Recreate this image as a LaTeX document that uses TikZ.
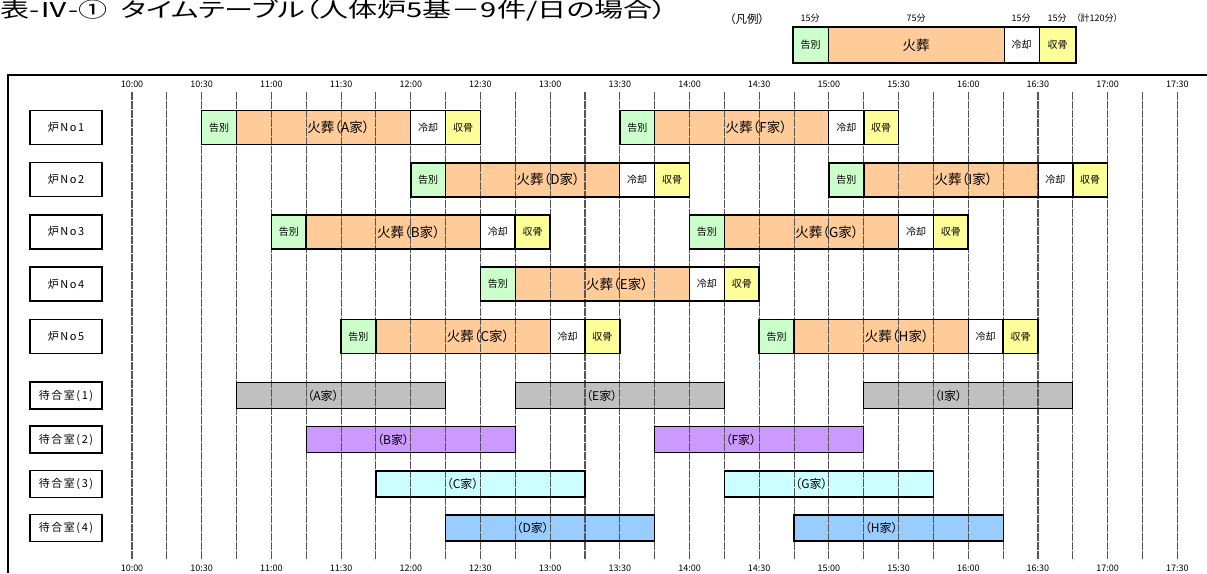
\documentclass[tikz,border=0pt]{standalone}
\usepackage{fontspec}
\setmainfont{Noto Sans CJK JP}[RawFeature={+palt}]
\newfontfamily\spacedfont{Noto Sans CJK JP}[RawFeature={+palt}, LetterSpace=14]
\pgfdeclarelayer{bg}
\pgfdeclarelayer{grid}
\pgfsetlayers{bg,grid,main}
\definecolor{cKob}{HTML}{CCFFCC}
\definecolor{cKas}{HTML}{FFCC99}
\definecolor{cShu}{HTML}{FFFF99}
\definecolor{cWa}{HTML}{C0C0C0}
\definecolor{cWb}{HTML}{CC99FF}
\definecolor{cWc}{HTML}{CCFFFF}
\definecolor{cWd}{HTML}{99CCFF}
\definecolor{cGrid}{HTML}{555555}
\tikzset{
  cell/.style={inner sep=0pt, outer sep=0pt, minimum height=34pt, minimum width=34.85pt,
    font=\fontsize{10}{11}\selectfont, anchor=west},
  kasolab/.style={inner sep=0pt, anchor=west, font=\fontsize{13.5}{14}\selectfont},
  waitbar/.style={inner sep=0pt, outer sep=0pt, minimum height=26pt, anchor=west},
  waitlab/.style={inner sep=0pt, anchor=west, font=\fontsize{12}{13}\selectfont},
  rowlab/.style={draw, line width=1.3pt, inner sep=0pt, minimum width=72pt, font=\spacedfont\fontsize{11}{12}\selectfont},
  timelab/.style={inner sep=0pt, font=\fontsize{9}{10}\selectfont},
  gridline/.style={cGrid, line width=1.1pt, dash pattern=on 8pt off 1pt},
  thickb/.style={line width=1.6pt},
  thinb/.style={line width=0.8pt},
  smalllab/.style={inner sep=0pt, font=\fontsize{9}{10}\selectfont},
}
\newcommand\crem[4]{%
  \pgfmathsetmacro\xs{132+2.323*#3}%
  \pgfmathsetmacro\xt{132+2.323*(#3+45)+1}%
  \node[cell] (#1k) at (\xs,#2) {告別};
  \node[cell, minimum width=174.2pt] (#1h) at (#1k.east) {};
  \node[cell] (#1r) at (#1h.east) {冷却};
  \node[cell] (#1s) at (#1r.east) {収骨};
  \node[kasolab] (#1t) at (\xt,#2) {火葬（#4家）};
  \begin{pgfonlayer}{bg}
    \fill[cKob] (#1k.north west) rectangle (#1k.south east);
    \fill[cKas] (#1h.north west) rectangle (#1h.south east);
    \fill[white] (#1r.north west) rectangle (#1r.south east);
    \fill[cShu] (#1s.north west) rectangle (#1s.south east);
  \end{pgfonlayer}
  \draw[thinb] (#1r.north west) rectangle (#1r.south east);
  \draw[thickb] (#1k.north west) rectangle (#1k.south east);
  \draw[thickb] (#1s.north west) rectangle (#1s.south east);
  \draw[thickb] (#1k.north west) rectangle (#1s.south east);
}
\newcommand\waitr[6]{%
  \pgfmathsetmacro\xs{132+2.323*#3}%
  \pgfmathsetmacro\ww{2.323*(#4-#3)}%
  \pgfmathsetmacro\xt{132+2.323*(#3+30)+1}%
  \node[waitbar, minimum width=\ww pt] (#1b) at (\xs,#2) {};
  \node[waitlab] (#1t) at (\xt,#2) {（#6家）};
  \begin{pgfonlayer}{bg}
    \fill[#5] (#1b.north west) rectangle (#1b.south east);
  \end{pgfonlayer}
  \draw[line width=1.2pt] (#1b.north west) rectangle (#1b.south east);
}
\begin{document}
\begin{tikzpicture}[x=1pt,y=-1pt]
\useasboundingbox (0,0) rectangle (1207,573);
% title
\node[anchor=base west, inner sep=0pt, font=\fontsize{20.5}{21}\selectfont] (title) at (0,17)
  {\scalebox{1.42}[1]{表-Ⅳ-①\ \ タイムテーブル（人体炉5基－9件/日の場合）}};
% legend
\node[anchor=center, inner sep=0pt, font=\fontsize{11.5}{12}\selectfont] (lg) at (747,19) {（凡例）};
\node[smalllab] (m1) at (810,18) {15分};
\node[smalllab] (m2) at (916,18) {75分};
\node[smalllab] (m3) at (1021,18) {15分};
\node[smalllab] (m4) at (1057,18) {15分};
\node[smalllab, anchor=west] (m5) at (1076,18) {（計120分）};
\node[cell, minimum height=36pt, minimum width=35pt] (gk) at (793,45) {告別};
\node[cell, minimum height=36pt, minimum width=176pt, font=\fontsize{13.5}{14}\selectfont] (gh) at (gk.east) {火葬};
\node[cell, minimum height=36pt, minimum width=35pt] (gr) at (gh.east) {冷却};
\node[cell, minimum height=36pt, minimum width=37pt] (gs) at (gr.east) {収骨};
\begin{pgfonlayer}{bg}
  \fill[cKob] (gk.north west) rectangle (gk.south east);
  \fill[cKas] (gh.north west) rectangle (gh.south east);
  \fill[cShu] (gs.north west) rectangle (gs.south east);
\end{pgfonlayer}
\draw[thinb] (gh.north west) -- (gh.south west) (gr.north west) -- (gr.south west) (gs.north west) -- (gs.south west);
\draw[line width=1.4pt] (gk.north west) rectangle (gs.south east);
% frame
\draw[line width=1.3pt] (8,573) -- (8,75) -- (1207,75);
% grid
\begin{pgfonlayer}{grid}
\foreach \i in {0,...,30} {
  \draw[gridline] ({132+2.323*15*\i},92) -- ({132+2.323*15*\i},560);
}
\end{pgfonlayer}
\foreach \i/\t in {0/10:00,1/10:30,2/11:00,3/11:30,4/12:00,5/12:30,6/13:00,7/13:30,8/14:00,9/14:30,10/15:00,11/15:30,12/16:00,13/16:30,14/17:00,15/17:30} {
  \node[timelab] (tt\i) at ({132+69.69*\i},84) {\t};
  \node[timelab] (tb\i) at ({132+69.69*\i},568) {\t};
}
% row labels
\node[rowlab, minimum height=34pt] (L1) at (66,127.5) {炉No1};
\node[rowlab, minimum height=34pt] (L2) at (66,179.7) {炉No2};
\node[rowlab, minimum height=34pt] (L3) at (66,231.9) {炉No3};
\node[rowlab, minimum height=34pt] (L4) at (66,284.1) {炉No4};
\node[rowlab, minimum height=34pt] (L5) at (66,336.3) {炉No5};
\node[rowlab, minimum height=27pt] (W1) at (66,395.5) {待合室(1)};
\node[rowlab, minimum height=27pt] (W2) at (66,439.5) {待合室(2)};
\node[rowlab, minimum height=27pt] (W3) at (66,484) {待合室(3)};
\node[rowlab, minimum height=27pt] (W4) at (66,528) {待合室(4)};
% cremations
\crem{A}{127.5}{30}{A}
\crem{F}{127.5}{210}{F}
\crem{D}{179.7}{120}{D}
\crem{I}{179.7}{300}{I}
\crem{B}{231.9}{60}{B}
\crem{G}{231.9}{240}{G}
\crem{E}{284.1}{150}{E}
\crem{C}{336.3}{90}{C}
\crem{H}{336.3}{270}{H}
% waiting rooms
\waitr{wA}{395.5}{45}{135}{cWa}{A}
\waitr{wE}{395.5}{165}{255}{cWa}{E}
\waitr{wI}{395.5}{315}{405}{cWa}{I}
\waitr{wB}{439.5}{75}{165}{cWb}{B}
\waitr{wF}{439.5}{225}{315}{cWb}{F}
\waitr{wC}{484}{105}{195}{cWc}{C}
\waitr{wG}{484}{255}{345}{cWc}{G}
\waitr{wD}{528}{135}{225}{cWd}{D}
\waitr{wH}{528}{285}{375}{cWd}{H}
\end{tikzpicture}
\end{document}
